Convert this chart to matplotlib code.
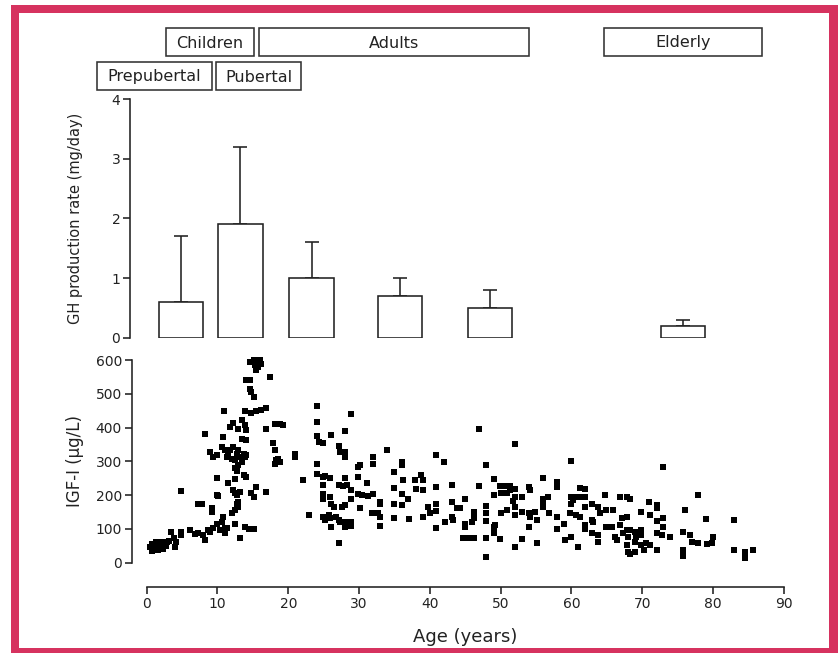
import matplotlib
matplotlib.use("Agg")
import matplotlib.pyplot as plt
from matplotlib.patches import Rectangle
import numpy as np

# ---------------- data ----------------
# GH production rate by age group (bars, upper SD only)
bar_age = [4.85, 13.25, 23.3, 35.8, 48.5, 75.8]
gh_mean = [0.6, 1.9, 1.0, 0.7, 0.5, 0.2]
gh_upper = [1.7, 3.2, 1.6, 1.0, 0.8, 0.3]
bar_width_years = 6.3

# IGF-I vs age (scatter)
age = [0.5, 0.7, 0.8, 1.0, 1.1, 1.3, 1.5, 1.6, 1.8, 2.0, 2.1, 2.3, 2.5, 2.7, 0.9, 1.4, 2.9, 3.2,
       3.5, 3.8, 4.0, 4.2, 4.8, 4.9, 6.1, 4.9, 6.8, 7.3, 8.0, 8.2, 7.2, 7.8, 8.2,
       8.7, 8.9, 9.2, 9.2, 9.4, 9.9, 9.9, 10.1, 10.4, 10.6, 10.8, 11.1, 11.1, 11.3,
       8.9, 9.4, 9.9, 9.9, 10.8, 10.9,
       10.6, 11.1, 11.3, 11.5, 11.8, 12.0, 12.2, 12.5, 12.7, 12.9, 13.2, 13.4, 13.7, 13.9, 14.1, 12.9, 12.5,
       11.8, 12.2, 12.9, 13.4, 13.9, 14.1, 13.4, 14.1,
       11.5, 12.5, 12.7, 13.7, 14.1,
       12.2, 12.9, 12.5, 12.7, 12.5, 12.9, 12.0, 12.7, 13.2,
       12.5, 13.9, 13.2, 14.4, 15.1,
       15.1, 14.8, 15.5, 16.9,
       13.9, 14.8, 15.5, 16.2, 16.9,
       14.1, 14.6, 14.6, 14.8, 15.1,
       14.6, 15.1, 15.5, 16.0, 16.2, 15.7, 15.3, 15.5,
       17.4, 16.9, 18.1, 18.8, 19.3,
       17.8, 18.1, 18.3, 18.1, 18.6, 18.8,
       21.0, 21.0, 22.1, 23.0, 24.0, 24.0, 24.0, 24.3, 24.9, 26.0, 28.0, 28.9,
       27.2, 27.3, 28.0, 28.0, 24.0, 24.1, 24.9, 25.2, 25.9, 28.0,
       24.9, 24.9, 24.9, 25.9, 26.1, 26.4, 27.6, 28.0, 28.9, 28.9,
       27.1, 27.8, 28.3,
       24.9, 25.2, 25.7, 25.9, 26.1, 26.8, 27.1, 27.3, 28.0, 28.9, 28.0, 28.9,
       27.1, 29.9, 30.1, 29.9, 31.1, 29.9, 30.4, 31.3, 32.0, 30.1, 32.0, 32.0,
       32.9, 32.9, 31.8, 32.7, 32.9, 32.9, 34.0, 35.0, 36.0, 36.0, 36.2,
       35.0, 36.0, 36.9, 35.0, 36.0, 35.0, 37.1,
       37.9, 38.8, 39.1, 38.1, 39.0, 39.1, 40.0, 39.8, 40.9, 40.9,
       40.9, 42.0, 40.9, 43.1, 43.1, 43.1, 43.3, 42.1, 40.9, 43.8,
       45.0, 44.3, 46.2, 46.2, 46.0, 45.0, 45.0, 45.4, 46.2, 44.7,
       47.0, 47.0, 48.0, 48.0, 48.0, 48.0, 48.0, 48.0,
       49.0, 49.0, 49.0, 49.0, 49.2, 49.9, 50.6, 51.3, 50.1, 50.9, 51.3,
       50.1, 50.9, 52.0, 51.8, 49.9, 52.0, 52.0, 52.0, 53.0, 52.0, 53.0, 52.0, 53.0,
       54.0, 54.2, 54.0, 54.2, 54.9, 55.1, 54.0, 55.1,
       56.0, 56.0, 56.7, 56.0, 56.0, 56.9, 57.9, 57.9, 57.9, 57.9, 58.9, 59.1,
       60.0, 60.0, 60.0, 60.3, 60.7, 61.2, 61.9, 61.2, 61.9,
       59.8, 60.7, 61.2, 60.0, 61.0, 61.9, 61.9, 61.9,
       62.9, 62.9, 63.1, 62.9, 63.8, 63.8, 63.8, 64.0,
       64.7, 64.9, 64.9, 65.9, 65.7, 66.9, 67.8, 67.1, 67.8,
       66.9, 67.3, 67.8, 68.0, 67.8, 68.0, 66.2, 66.4,
       68.3, 69.9, 70.9, 71.1, 72.1, 72.1, 73.0, 73.0, 72.1,
       68.3, 69.0, 69.2, 69.9, 69.9, 69.0, 69.9, 70.2, 70.6, 71.1, 69.0, 68.3,
       72.1, 72.8, 73.0, 74.0, 72.1,
       76.1, 75.8, 76.8, 77.0, 75.8, 75.8,
       77.9, 77.9, 79.1, 79.8, 79.0, 80.0, 83.0, 83.0, 84.6, 84.6, 85.6]
igf = [45, 35, 55, 40, 50, 60, 45, 38, 55, 48, 62, 42, 55, 50, 48, 52, 60, 65,
       92, 72, 47, 62, 92, 82, 97, 212, 85, 87, 82, 67, 173, 173, 382,
       97, 92, 151, 161, 102, 116, 200, 198, 97, 121, 136, 102, 87, 102,
       328, 313, 318, 251, 372, 449,
       342, 333, 313, 323, 333, 308, 342, 303, 323, 288, 313, 298, 323, 313, 318, 333, 279,
       402, 414, 397, 422, 407, 392, 367, 364,
       236, 249, 272, 259, 254,
       215, 166, 205, 175, 156, 180, 146, 200, 210,
       116, 106, 72, 101, 101,
       195, 205, 225, 210,
       449, 444, 449, 452, 457,
       540, 540, 513, 506, 491,
       594, 599, 591, 599, 589, 579, 584, 569,
       550, 397, 410, 410, 407,
       354, 333, 303, 293, 308, 298,
       323, 313, 244, 141, 464, 415, 374, 358, 355, 377, 389, 440,
       345, 328, 328, 313, 291, 264, 254, 256, 252, 252,
       229, 204, 190, 195, 175, 165, 165, 170, 215, 190,
       229, 226, 229,
       136, 126, 141, 131, 106, 136, 126, 121, 121, 121, 106, 108,
       59, 284, 288, 254, 236, 204, 200, 198, 204, 161, 313, 291,
       180, 173, 146, 146, 136, 108, 333, 269, 298, 288, 246,
       221, 204, 188, 173, 170, 133, 129,
       244, 259, 246, 219, 214, 136, 146, 166, 175, 153,
       320, 298, 224, 229, 180, 136, 126, 121, 104, 163,
       188, 161, 151, 131, 121, 116, 106, 72, 72, 72,
       395, 227, 288, 168, 146, 124, 72, 16,
       248, 199, 106, 87, 111, 227, 227, 227, 207, 207, 215,
       146, 156, 166, 183, 70, 350, 217, 195, 195, 141, 151, 47, 69,
       225, 215, 146, 136, 151, 126, 106, 57,
       250, 190, 195, 180, 166, 146, 240, 225, 136, 101, 116, 67,
       301, 195, 175, 187, 195, 195, 195, 220, 218,
       146, 141, 136, 77, 47, 166, 111, 101,
       175, 126, 121, 87, 82, 62, 166, 146,
       200, 156, 106, 156, 106, 195, 195, 131, 136,
       111, 87, 97, 77, 52, 32, 77, 67,
       190, 151, 180, 141, 170, 161, 284, 131, 124,
       97, 92, 77, 97, 82, 62, 52, 37, 57, 52, 32, 27,
       87, 82, 106, 77, 37,
       156, 92, 82, 62, 37, 20,
       200, 59, 54, 57, 129, 77, 126, 37, 32, 13, 37]

gh_ticks = [0, 1, 2, 3, 4]
igf_ticks = [0, 100, 200, 300, 400, 500, 600]
age_ticks = [0, 10, 20, 30, 40, 50, 60, 70, 80, 90]

group_boxes = [  # label, left px, right px, top px, bottom px (figure pixels)
    ("Children", 166, 254, 28, 56),
    ("Adults", 259, 529, 28, 56),
    ("Elderly", 604, 762, 28, 56),
    ("Prepubertal", 97, 212, 62, 90),
    ("Pubertal", 216, 301, 62, 90),
]

# ---------------- figure ----------------
W, H = 838, 653
DPI = 100
plt.rcParams['font.family'] = ['DejaVu Sans']
fig = plt.figure(figsize=(W / DPI, H / DPI), dpi=DPI)
fig.patch.set_facecolor('white')

def fx(px):
    return px / W

def fy(py):
    return 1 - py / H

x0, x90 = 146.7, 783.7
# top axes (bars)
top_y0, top_y4 = 337.7, 99.3
ax1 = fig.add_axes([fx(x0), fy(top_y0), fx(x90) - fx(x0), fy(top_y4) - fy(top_y0)])
# bottom axes (scatter)
bot_y0, bot_y600 = 562.7, 360.0
ax2 = fig.add_axes([fx(x0), fy(bot_y0), fx(x90) - fx(x0), fy(bot_y600) - fy(bot_y0)])

lw_px = 1.6
lw = lw_px * 72 / DPI
ink = '#222222'

# Bars
up_err = [u - m for u, m in zip(gh_upper, gh_mean)]
ax1.bar(bar_age, gh_mean, width=bar_width_years, color='white', edgecolor=ink,
        linewidth=lw, zorder=2)
ax1.errorbar(bar_age, gh_mean, yerr=[[0] * len(gh_mean), up_err], fmt='none',
             ecolor=ink, elinewidth=lw, capsize=5, capthick=lw, zorder=1)
ax1.set_xlim(0, 90)
ax1.set_ylim(0, 4)
ax1.set_yticks(gh_ticks)
for s in ['top', 'right', 'bottom']:
    ax1.spines[s].set_visible(False)
ax1.spines['left'].set_position(('outward', (x0 - 130) * 72 / DPI))
ax1.spines['left'].set_linewidth(lw)
ax1.spines['left'].set_color(ink)
ax1.tick_params(axis='y', length=5, width=lw, colors=ink, labelsize=10, pad=2)
ax1.set_xticks([])

# Scatter
ax2.scatter(age, igf, s=20, marker='s', color='black', linewidths=0, clip_on=False, zorder=3)
ax2.set_xlim(0, 90)
ax2.set_ylim(0, 600)
ax2.set_xticks(age_ticks)
ax2.set_yticks(igf_ticks)
for s in ['top', 'right']:
    ax2.spines[s].set_visible(False)
ax2.spines['left'].set_position(('outward', (x0 - 131.7) * 72 / DPI))
ax2.spines['bottom'].set_position(('outward', (587.3 - bot_y0) * 72 / DPI))
ax2.spines['left'].set_bounds(0, 600)
ax2.spines['bottom'].set_bounds(0, 90)
for s in ['left', 'bottom']:
    ax2.spines[s].set_linewidth(lw)
    ax2.spines[s].set_color(ink)
ax2.tick_params(axis='both', length=5, width=lw, colors=ink, labelsize=10, pad=2)

# Axis labels
fig.text(fx(75), fy((top_y0 + top_y4) / 2), "GH production rate (mg/day)", rotation=90,
         ha='center', va='center', fontsize=10.5, color=ink)
fig.text(fx(75), fy((bot_y0 + bot_y600) / 2), "IGF-I (µg/L)", rotation=90,
         ha='center', va='center', fontsize=12, color=ink)
fig.text(fx(465), fy(637), "Age (years)", ha='center', va='center', fontsize=13, color=ink)

# Group label boxes
for label, l, r, t, b in group_boxes:
    rect = Rectangle((fx(l), fy(b)), fx(r) - fx(l), fy(t) - fy(b), transform=fig.transFigure,
                     facecolor='white', edgecolor='#333333', linewidth=lw)
    fig.patches.append(rect)
    fig.text(fx((l + r) / 2), fy((t + b) / 2 + 1), label, ha='center', va='center',
             fontsize=11.5, color=ink)

# Pink frame
pink = '#d6325f'
frame = [(11, 5, 19, 653), (11, 5, 838, 12.7), (829, 5, 838, 653), (11, 648, 838, 653)]
for l, t, r, b in frame:
    fig.patches.append(Rectangle((fx(l), fy(b)), fx(r) - fx(l), fy(t) - fy(b),
                                 transform=fig.transFigure, facecolor=pink,
                                 edgecolor='none', zorder=10))

fig.savefig("out.png", dpi=DPI, facecolor='white')
